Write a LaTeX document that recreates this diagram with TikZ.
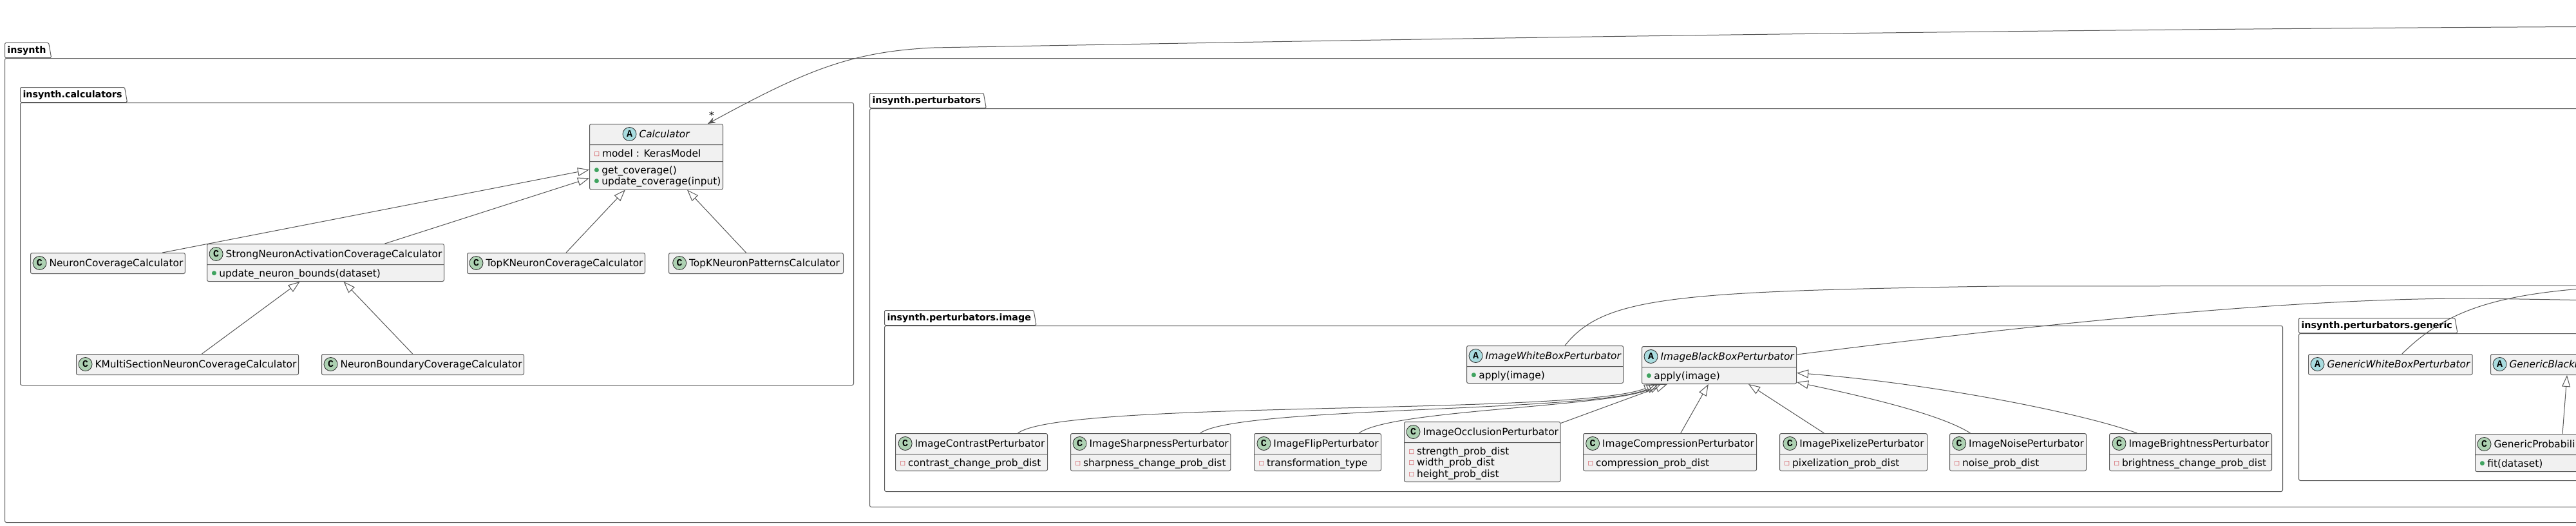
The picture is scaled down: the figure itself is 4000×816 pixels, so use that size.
\documentclass[tikz,border=0pt]{standalone}
\usepackage{fontspec}
\setmainfont{DejaVu Sans}
\newfontfamily\badgefont{Liberation Mono}
\usetikzlibrary{shapes.multipart, shapes.geometric, arrows.meta, positioning}

\definecolor{boxfill}{HTML}{F1F1F1}
\definecolor{boxline}{HTML}{5A5A5A}
\definecolor{linegray}{HTML}{555555}
\definecolor{classgreen}{HTML}{ADD1B2}
\definecolor{abstractblue}{HTML}{A9DCDF}
\definecolor{privred}{HTML}{C82930}
\definecolor{pubgreen}{HTML}{3FA35F}

\newcommand{\classfont}{\fontsize{15.4}{17.5}\selectfont}
\newcommand{\pkgfont}{\bfseries\fontsize{14.3}{16}\selectfont}
\newcommand{\hstr}{\rule[-11pt]{0pt}{31pt}}
\newcommand{\mone}{\rule[-7pt]{0pt}{25pt}}
\newcommand{\mtop}{\rule{0pt}{18pt}}
\newcommand{\mbot}{\rule[-7pt]{0pt}{7pt}}
\newcommand{\tstr}{\rule[-7pt]{0pt}{23pt}}
\newcommand{\priv}{\hspace*{4pt}\raisebox{2pt}{\textcolor{privred}{\fontsize{9}{9}\selectfont □}}\hspace{4pt}}
\newcommand{\pub}{\hspace*{4pt}\raisebox{3pt}{\textcolor{pubgreen}{\fontsize{9}{9}\selectfont ●}}\hspace{4pt}}

\begin{document}
\begin{tikzpicture}[
    x=1pt, y=-1pt,
    pkgbox/.style={rectangle, draw=boxline, line width=1pt, rounded corners=2.5pt, inner sep=0pt, anchor=north west},
    pkgtab/.style={trapezium, trapezium left angle=90, trapezium right angle=80, draw=boxline, line width=1pt, rounded corners=1.5pt, inner xsep=4pt, inner ysep=0pt, font=\pkgfont, anchor=bottom left corner},
    classbox/.style={rectangle split, rectangle split parts=2, draw=boxline, fill=boxfill, line width=1pt, rounded corners=2.5pt, inner xsep=3pt, inner ysep=0pt, anchor=north west, font=\classfont, align=left, rectangle split part align={center,left,left}},
    badgeC/.style={circle, draw=black!85, fill=classgreen, line width=0.8pt, minimum size=21pt, inner sep=0pt, font=\badgefont\bfseries\fontsize{15}{15}\selectfont},
    badgeA/.style={badgeC, fill=abstractblue},
    inherit/.style={draw=linegray, line width=1pt, -{Triangle[open, length=18pt, width=13pt]}},
    assoc/.style={draw=linegray, line width=1pt, -{Stealth[length=12pt, width=9pt]}},
    assocline/.style={draw=linegray, line width=1pt}
]
\useasboundingbox (0,0) rectangle (4000,816);
\fill[white] (0,0) rectangle (4000,816);
\clip (0,0) rectangle (4000,816);

% ==================== PACKAGES ====================
\node[pkgbox, minimum width=4293pt, minimum height=720pt] (pk_insynth) at (7,90) {};
\node[pkgtab] (tab_insynth) at (pk_insynth.north west) {\tstr insynth};
\node[pkgbox, minimum width=1294pt, minimum height=438pt] (pk_calc) at (31,159) {};
\node[pkgtab] (tab_calc) at (pk_calc.north west) {\tstr insynth.calculators};
\node[pkgbox, minimum width=2950pt, minimum height=618pt] (pk_pert) at (1350,168) {};
\node[pkgtab] (tab_pert) at (pk_pert.north west) {\tstr insynth.perturbators};
\node[pkgbox, minimum width=2171pt, minimum height=257pt] (pk_image) at (1373,505) {};
\node[pkgtab] (tab_image) at (pk_image.north west) {\tstr insynth.perturbators.image};
\node[pkgbox, minimum width=731pt, minimum height=228pt] (pk_generic) at (3569,517) {};
\node[pkgtab] (tab_generic) at (pk_generic.north west) {\tstr insynth.perturbators.generic};

% ==================== CALCULATORS ====================
\node[classbox, rectangle split parts=3, minimum width=207pt] (calc) at (915,192) {\hstr\hspace*{26pt}\textit{Calculator}\nodepart{two}\mone\priv model : KerasModel\nodepart{three}\mtop\pub get\_coverage()\\\pub update\_coverage(input)\mbot};
\node[badgeA] at ([xshift=11pt,yshift=5pt]calc.text) {A};
\node[classbox, rectangle split parts=1, minimum width=238pt] (ncc) at (47,392) {\hstr\hspace*{26pt}NeuronCoverageCalculator};
\node[badgeC] at ([xshift=11pt,yshift=5pt]ncc.text) {C};
\node[classbox, minimum width=368pt] (snac) at (321,378) {\hstr\hspace*{26pt}StrongNeuronActivationCoverageCalculator\nodepart{two}\mone\pub update\_neuron\_bounds(dataset)};
\node[badgeC] at ([xshift=11pt,yshift=5pt]snac.text) {C};
\node[classbox, rectangle split parts=1, minimum width=276pt] (topknc) at (725,392) {\hstr\hspace*{26pt}TopKNeuronCoverageCalculator};
\node[badgeC] at ([xshift=11pt,yshift=5pt]topknc.text) {C};
\node[classbox, rectangle split parts=1, minimum width=271pt] (topknp) at (1038,392) {\hstr\hspace*{26pt}TopKNeuronPatternsCalculator};
\node[badgeC] at ([xshift=11pt,yshift=5pt]topknp.text) {C};
\node[classbox, rectangle split parts=1, minimum width=345pt] (kmnc) at (118,549) {\hstr\hspace*{26pt}KMultiSectionNeuronCoverageCalculator};
\node[badgeC] at ([xshift=11pt,yshift=5pt]kmnc.text) {C};
\node[classbox, rectangle split parts=1, minimum width=310pt] (nbc) at (499,549) {\hstr\hspace*{26pt}NeuronBoundaryCoverageCalculator};
\node[badgeC] at ([xshift=11pt,yshift=5pt]nbc.text) {C};

% ==================== IMAGE PERTURBATORS ====================
\node[classbox, minimum width=236pt] (iwbp) at (2277,536) {\hstr\hspace*{26pt}\textit{ImageWhiteBoxPerturbator}\nodepart{two}\mone\pub apply(image)};
\node[badgeA] at ([xshift=11pt,yshift=5pt]iwbp.text) {A};
\node[classbox, minimum width=232pt] (ibbp) at (2549,537) {\hstr\hspace*{26pt}\textit{ImageBlackBoxPerturbator}\nodepart{two}\mone\pub apply(image)};
\node[badgeA] at ([xshift=11pt,yshift=5pt]ibbp.text) {A};
\node[classbox, minimum width=236pt] (icontrast) at (1390,672) {\hstr\hspace*{26pt}ImageContrastPerturbator\nodepart{two}\mone\priv contrast\_change\_prob\_dist};
\node[badgeC] at ([xshift=11pt,yshift=5pt]icontrast.text) {C};
\node[classbox, minimum width=248pt] (isharp) at (1662,672) {\hstr\hspace*{26pt}ImageSharpnessPerturbator\nodepart{two}\mone\priv sharpness\_change\_prob\_dist};
\node[badgeC] at ([xshift=11pt,yshift=5pt]isharp.text) {C};
\node[classbox, minimum width=197pt] (iflip) at (1947,672) {\hstr\hspace*{26pt}ImageFlipPerturbator\nodepart{two}\mone\priv transformation\_type};
\node[badgeC] at ([xshift=11pt,yshift=5pt]iflip.text) {C};
\node[classbox, minimum width=242pt] (iocc) at (2180,654) {\hstr\hspace*{26pt}ImageOcclusionPerturbator\nodepart{two}\mtop\priv strength\_prob\_dist\\\priv width\_prob\_dist\\\priv height\_prob\_dist\mbot};
\node[badgeC] at ([xshift=11pt,yshift=5pt]iocc.text) {C};
\node[classbox, minimum width=269pt] (icomp) at (2458,672) {\hstr\hspace*{26pt}ImageCompressionPerturbator\nodepart{two}\mone\priv compression\_prob\_dist};
\node[badgeC] at ([xshift=11pt,yshift=5pt]icomp.text) {C};
\node[classbox, minimum width=229pt] (ipix) at (2763,672) {\hstr\hspace*{26pt}ImagePixelizePerturbator\nodepart{two}\mone\priv pixelization\_prob\_dist};
\node[badgeC] at ([xshift=11pt,yshift=5pt]ipix.text) {C};
\node[classbox, minimum width=212pt] (inoise) at (3027,672) {\hstr\hspace*{26pt}ImageNoisePerturbator\nodepart{two}\mone\priv noise\_prob\_dist};
\node[badgeC] at ([xshift=11pt,yshift=5pt]inoise.text) {C};
\node[classbox, minimum width=252pt] (ibright) at (3275,672) {\hstr\hspace*{26pt}ImageBrightnessPerturbator\nodepart{two}\mone\priv brightness\_change\_prob\_dist};
\node[badgeC] at ([xshift=11pt,yshift=5pt]ibright.text) {C};

% ==================== GENERIC PERTURBATORS ====================
\node[classbox, rectangle split parts=1, minimum width=248pt] (gwbp) at (3584,549) {\hstr\hspace*{26pt}\textit{GenericWhiteBoxPerturbator}};
\node[badgeA] at ([xshift=11pt,yshift=5pt]gwbp.text) {A};
\node[classbox, rectangle split parts=1, minimum width=300pt, rectangle split part align={left}] (gbbp) at (3867,549) {\hstr\hspace*{26pt}\textit{GenericBlackB}};
\node[badgeA] at ([xshift=11pt,yshift=5pt]gbbp.text) {A};
\node[classbox, minimum width=300pt, rectangle split part align={left,left}] (gprob) at (3843,673) {\hstr\hspace*{26pt}GenericProbabili\nodepart{two}\mone\pub fit(dataset)};
\node[badgeC] at ([xshift=11pt,yshift=5pt]gprob.text) {C};

% ==================== CONNECTORS ====================
\coordinate (calcfar) at (4100,41);
\coordinate (whitefar) at (4100,443);
\coordinate (blackfar) at (4100,467);

% calculator hierarchy
\draw[inherit] (ncc) -- (calc);
\draw[inherit] (snac) -- (calc);
\draw[inherit] (topknc) -- (calc);
\draw[inherit] (topknp) -- (calc);
\draw[inherit] (kmnc) -- (snac);
\draw[inherit] (nbc) -- (snac);

% image hierarchy
\draw[inherit] ([xshift=72pt]icontrast.north) .. controls (1650,620) and (2450,645) .. ([xshift=22pt]ibbp.south west);
\draw[inherit] ([xshift=77pt]isharp.north) .. controls (1920,630) and (2480,640) .. ([xshift=26pt]ibbp.south west);
\draw[inherit] ([xshift=64pt]iflip.north) .. controls (2160,635) and (2500,632) .. ([xshift=30pt]ibbp.south west);
\draw[inherit] (iocc) -- (ibbp);
\draw[inherit] (icomp) -- (ibbp);
\draw[inherit] (ipix) -- (ibbp);
\draw[inherit] ([xshift=-74pt]inoise.north) .. controls (3010,640) and (2870,610) .. ([yshift=3pt]ibbp.south east);
\draw[inherit] ([xshift=-83pt]ibright.north) .. controls (3230,640) and (3000,595) .. ([yshift=-12pt]ibbp.east);

% generic hierarchy
\draw[inherit] ([xshift=136pt]gprob.north west) -- ([xshift=119pt]gbbp.south west);

% links leaving the frame
\draw[assoc] (calcfar) .. controls (3000,46) and (2000,64) .. (1450,74) .. controls (1320,80) and (1250,110) .. ([xshift=-24pt]calc.north east);
\node[font=\classfont, anchor=base, inner sep=0pt] (calcmult) at ([xshift=-18pt,yshift=8pt]calc.north east) {*};
\draw[assocline] ([xshift=31pt]iwbp.north) .. controls (2490,460) and (2600,452) .. (3100,444) -- (whitefar);
\draw[assocline] ([yshift=-13pt]ibbp.north east) .. controls (3250,492) and (3600,462) .. (3850,463) -- (blackfar);
\draw[assocline] ([xshift=18pt]gwbp.north) .. controls (3800,480) and (3880,450) .. (whitefar);

\end{tikzpicture}
\end{document}
